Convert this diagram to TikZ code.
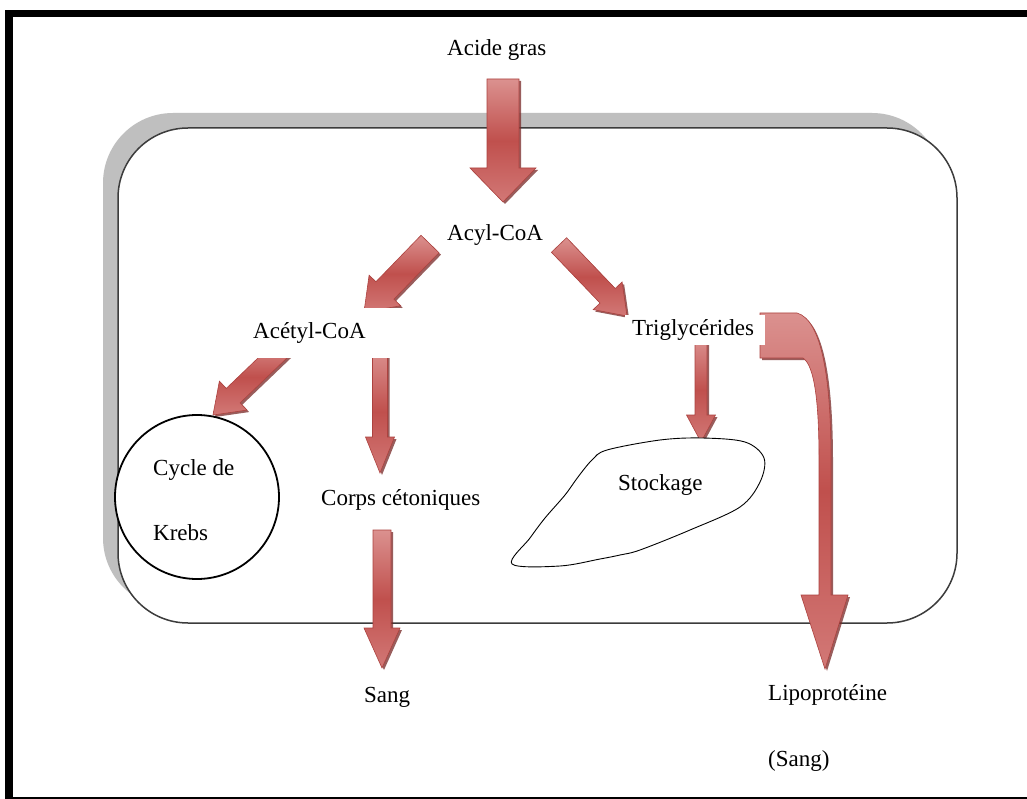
\documentclass[tikz,border=0pt]{standalone}
\usepackage{fontspec}
\setmainfont{Liberation Serif}
\usetikzlibrary{calc}
\definecolor{arL}{RGB}{219,145,143}
\definecolor{arL2}{RGB}{210,120,118}
\definecolor{arM}{RGB}{192,80,77}
\definecolor{arS}{RGB}{120,40,38}
\definecolor{arB}{RGB}{172,66,63}
\definecolor{cellshadow}{RGB}{191,191,191}
\definecolor{cellline}{RGB}{60,60,60}
\tikzset{
  lbl/.style={font=\fontsize{23}{27}\selectfont, inner sep=0pt, anchor=base west},
  arrowbody/.style={top color=arL, bottom color=arL2, middle color=arM, draw=arB, line width=0.6pt},
  arrowshade/.style={fill=arS, opacity=0.75, transform canvas={shift={(2pt,-2pt)}}},
  boxlbl/.style={lbl, anchor=west, fill=white, align=left, inner ysep=0pt},
}
% #1 tail, #2 tip, #3 half shaft, #4 half head, #5 head length
\newcommand\blockarrow[5]{%
  \coordinate (ba-h) at ($(#2)!#5!(#1)$);
  \foreach \sty in {arrowshade,arrowbody}{%
  \path[\sty] ($(#1)!#3!90:(#2)$) -- ($(ba-h)!#3!90:(#2)$) -- ($(ba-h)!#4!90:(#2)$)
     -- (#2) -- ($(ba-h)!#4!-90:(#2)$) -- ($(ba-h)!#3!-90:(#2)$) -- ($(#1)!#3!-90:(#2)$) -- cycle;}
}
\begin{document}
\begin{tikzpicture}[x=1pt,y=-1pt]
\useasboundingbox (0,0) rectangle (1027,799);
\fill[white] (0,0) rectangle (1027,799);
% outer frame
\fill[black] (5,10) rectangle (1027,17);
\fill[black] (5,10) rectangle (13,799);
\fill[black] (5,796.5) rectangle (1027,799);
% cell
\fill[cellshadow, rounded corners=70pt] (103,113) rectangle (942,608);
\draw[fill=white, draw=cellline, line width=1.5pt, rounded corners=70pt] (118,128) rectangle (957,623);

% arrow end coordinates
\coordinate (a1s) at (503,79);  \coordinate (a1e) at (503,202);
\coordinate (a2s) at (430,244); \coordinate (a2e) at (364,312);
\coordinate (a3s) at (559,245); \coordinate (a3e) at (627,316);
\coordinate (a4s) at (285,346); \coordinate (a4e) at (213,415);
\coordinate (a5s) at (380,350); \coordinate (a5e) at (380,473);
\coordinate (a6s) at (701,338); \coordinate (a6e) at (701,442);
\coordinate (a7s) at (382,530); \coordinate (a7e) at (382,668);

\blockarrow{a1s}{a1e}{16pt}{33pt}{34pt}
\blockarrow{a2s}{a2e}{12.5pt}{22pt}{30pt}
\blockarrow{a3s}{a3e}{10.5pt}{20pt}{28pt}
\blockarrow{a4s}{a4e}{10pt}{20pt}{28pt}
\blockarrow{a5s}{a5e}{7.5pt}{14.5pt}{36pt}
\blockarrow{a6s}{a6e}{6pt}{14.5pt}{27pt}
\blockarrow{a7s}{a7e}{9pt}{18pt}{40pt}

% bent arrow Triglycerides -> Lipoproteine
\foreach \sty in {arrowshade,arrowbody}{%
\path[\sty] (760,313) -- (797,313) .. controls (822,320) and (831,380) .. (831,460)
  -- (831,595) -- (848,595) -- (825,669) -- (801,595) -- (819,595) -- (819,460)
  .. controls (819,405) and (815,366) .. (803,358) -- (760,358) -- cycle;}

% Krebs circle
\node[circle, draw, line width=1.8pt, fill=white, minimum size=164pt, inner sep=0pt] (krebs) at (197,497) {};
\node[lbl] (cyc1) at (153,475) {Cycle de};
\node[lbl] (cyc2) at (153,540) {Krebs};

% storage blob
\draw[line width=0.9pt, fill=white] plot[smooth cycle, tension=0.55] coordinates {
  (607,450) (660,440) (702,438) (745,442) (764,458) (760,482) (740,507)
  (690,530) (640,550) (620,555) (600,559) (560,566) (512,564)
  (530,538) (545,518) (565,495) (578,477) (592,460)};

% labels
\node[lbl] (acide) at (447,56) {Acide gras};
\node[lbl] (acyl) at (447,241) {Acyl-CoA};
\node[boxlbl, text width=140pt, inner xsep=8pt, minimum height=50pt] (acetyl) at (245,333) {Acétyl-CoA};
\node[boxlbl, text width=126pt, inner xsep=7pt, minimum height=30pt] (trig) at (625,330) {Triglycérides};
\node[lbl] (corps) at (321,505) {Corps cétoniques};
\node[lbl] (stock) at (618,490) {Stockage};
\node[lbl] (sang) at (364,702) {Sang};
\node[lbl] (lipo) at (768,700) {Lipoprotéine};
\node[lbl] (sang2) at (768,766) {(Sang)};
\end{tikzpicture}
\end{document}
